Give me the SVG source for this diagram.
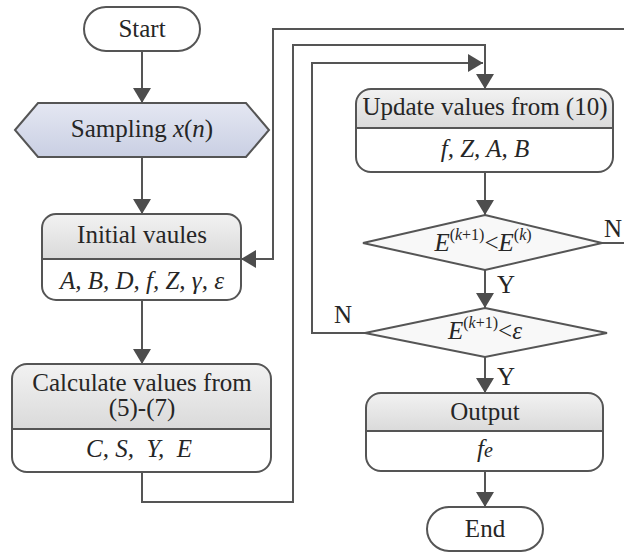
<svg xmlns="http://www.w3.org/2000/svg" width="624" height="553" viewBox="0 0 624 553">
<style>
  text{font-family:"Liberation Serif","Times New Roman","DejaVu Serif",serif;font-size:25px;fill:#262626}
  .i{font-style:italic}
  .sup{font-size:16px}
  .mid{text-anchor:middle}
  .out{fill:none;stroke:#555;stroke-width:2}
  .hdr{fill:url(#hg);stroke:none}
  .conn path{fill:none;stroke:#555;stroke-width:2}
  .dia{fill:#f8f8f8;stroke:#555;stroke-width:2}
  .term{fill:#fff;stroke:#555;stroke-width:2}
</style>
<defs>
  <linearGradient id="hg" x1="0" y1="0" x2="0" y2="1">
    <stop offset="0" stop-color="#f2f2f2"/>
    <stop offset="1" stop-color="#dadada"/>
  </linearGradient>
  <linearGradient id="bg" x1="0" y1="0" x2="0" y2="1">
    <stop offset="0" stop-color="#e4e7f2"/>
    <stop offset="1" stop-color="#c9cfe3"/>
  </linearGradient>
  <marker id="ah" markerUnits="userSpaceOnUse" markerWidth="16" markerHeight="18" refX="15" refY="9" orient="auto">
    <path d="M0,0 L15,9 L0,18 Z" fill="#4d4d4d"/>
  </marker>
</defs>
<rect width="624" height="553" fill="#fff"/>

<g class="conn">
  <path d="M142,51 V103" marker-end="url(#ah)"/>
  <path d="M142,157 V214" marker-end="url(#ah)"/>
  <path d="M142,300 V364" marker-end="url(#ah)"/>
  <path d="M142,472 V502 H293 V45 H485 V89" marker-end="url(#ah)"/>
  <path d="M365,333 H312 V63 H483" marker-end="url(#ah)"/>
  <path d="M602,243 H632 V29 H273 V259 H241" marker-end="url(#ah)"/>
  <path d="M485,172 V215" marker-end="url(#ah)"/>
  <path d="M485,270 V308" marker-end="url(#ah)"/>
  <path d="M485,357 V393" marker-end="url(#ah)"/>
  <path d="M485,471 V507" marker-end="url(#ah)"/>
</g>

<g id="start">
  <rect class="term" x="84" y="7" width="116" height="44" rx="22"/>
  <text class="mid" x="142" y="37">Start</text>
</g>

<g id="sampling">
  <polygon points="15,130 38,103 246,103 269,130 246,157 38,157" fill="url(#bg)" stroke="#555" stroke-width="2"/>
  <text class="mid" x="142" y="137">Sampling <tspan class="i">x</tspan>(<tspan class="i">n</tspan>)</text>
</g>

<g id="initial">
  <path class="hdr" d="M42,259 V228 A14,14 0 0 1 56,214 H227 A14,14 0 0 1 241,228 V259 Z"/>
  <rect class="out" x="42" y="214" width="199" height="86" rx="14"/>
  <line x1="42" y1="259" x2="241" y2="259" stroke="#555" stroke-width="2"/>
  <text class="mid" x="142" y="243">Initial vaules</text>
  <text class="mid i" x="142" y="289">A, B, D, f, Z, γ, ε</text>
</g>

<g id="calculate">
  <path class="hdr" d="M12,429 V379 A15,15 0 0 1 27,364 H256 A15,15 0 0 1 271,379 V429 Z"/>
  <rect class="out" x="12" y="364" width="259" height="108" rx="15"/>
  <line x1="12" y1="429" x2="271" y2="429" stroke="#555" stroke-width="2"/>
  <text class="mid" x="142" y="391">Calculate values from</text>
  <text class="mid" x="142" y="416">(5)-(7)</text>
  <text class="mid i" x="139" y="457" xml:space="preserve">C, S,  Y,  E</text>
</g>

<g id="update">
  <path class="hdr" d="M356,128 V104 A15,15 0 0 1 371,89 H598 A15,15 0 0 1 613,104 V128 Z"/>
  <rect class="out" x="356" y="89" width="257" height="83" rx="15"/>
  <line x1="356" y1="128" x2="613" y2="128" stroke="#555" stroke-width="2"/>
  <text class="mid" x="485" y="115">Update values from (10)</text>
  <text class="mid i" x="485" y="157">f, Z, A, B</text>
</g>

<g id="decision1">
  <polygon class="dia" points="485,215 602,243 485,270 363,243"/>
  <text class="mid" x="483" y="251"><tspan class="i">E</tspan><tspan class="sup" dy="-11">(</tspan><tspan class="sup i">k</tspan><tspan class="sup">+1)</tspan><tspan dy="11">&lt;</tspan><tspan class="i">E</tspan><tspan class="sup" dy="-11">(</tspan><tspan class="sup i">k</tspan><tspan class="sup">)</tspan></text>
  <text x="604" y="237">N</text>
  <text x="497" y="293">Y</text>
</g>

<g id="decision2">
  <polygon class="dia" points="485,308 607,333 485,357 365,333"/>
  <text class="mid" x="485" y="339"><tspan class="i">E</tspan><tspan class="sup" dy="-11">(</tspan><tspan class="sup i">k</tspan><tspan class="sup">+1)</tspan><tspan dy="11">&lt;</tspan><tspan class="i">ε</tspan></text>
  <text x="334" y="323">N</text>
  <text x="497" y="385">Y</text>
</g>

<g id="output">
  <path class="hdr" d="M366,431 V408 A15,15 0 0 1 381,393 H588 A15,15 0 0 1 603,408 V431 Z"/>
  <rect class="out" x="366" y="393" width="237" height="78" rx="15"/>
  <line x1="366" y1="431" x2="603" y2="431" stroke="#555" stroke-width="2"/>
  <text class="mid" x="485" y="420">Output</text>
  <text class="mid i" x="485" y="457">f<tspan font-size="20">e</tspan></text>
</g>

<g id="end">
  <rect class="term" x="427" y="507" width="116" height="44" rx="22"/>
  <text class="mid" x="485" y="537">End</text>
</g>
</svg>
